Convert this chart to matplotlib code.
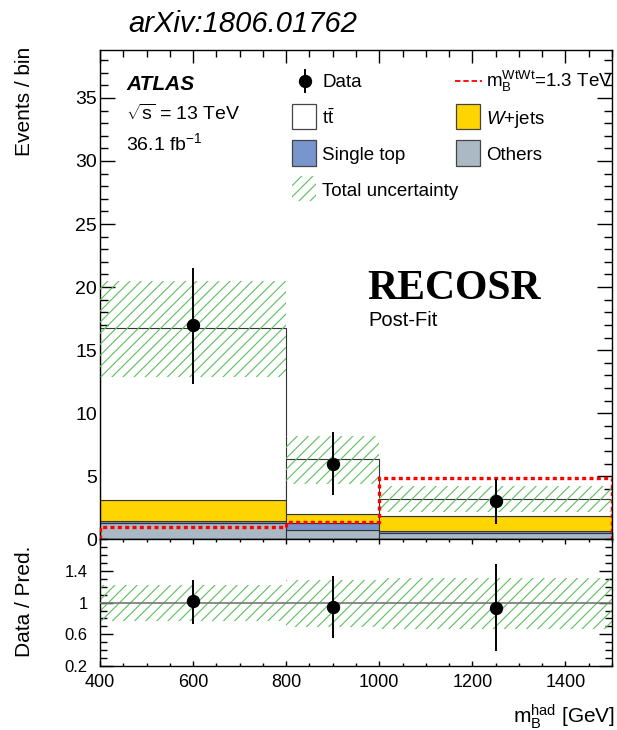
import numpy as np
import matplotlib
matplotlib.use('Agg')
from matplotlib import pyplot as plt
from matplotlib.patches import Rectangle
from matplotlib.lines import Line2D
from matplotlib.ticker import MultipleLocator, FuncFormatter

plt.rcParams['font.family'] = ['Liberation Sans', 'DejaVu Sans']
plt.rcParams['mathtext.fontset'] = 'custom'
plt.rcParams['mathtext.rm'] = 'Liberation Sans'
plt.rcParams['mathtext.it'] = 'Liberation Sans:italic'
plt.rcParams['mathtext.bf'] = 'Liberation Sans:bold'
plt.rcParams['mathtext.sf'] = 'Liberation Sans'
plt.rcParams['hatch.linewidth'] = 0.8

# bins in m_B^had [GeV]
edges = np.array([400, 800, 1000, 1500])

# stacked backgrounds (post-fit), bottom to top
others = np.array([1.28, 0.74, 0.47])
single_top = np.array([0.16, 0.59, 0.16])
wjets = np.array([1.71, 0.64, 1.18])
ttbar = np.array([13.59, 4.38, 1.39])

# total uncertainty band (absolute)
unc_lo = np.array([12.9, 4.36, 2.13])
unc_hi = np.array([20.45, 8.18, 4.19])

# data with error bar ends
data = np.array([17, 6, 3])
data_lo = np.array([12.3, 3.54, 1.25])
data_hi = np.array([21.5, 8.5, 4.77])

# signal m_B = 1.3 TeV
signal = np.array([1.0, 1.35, 4.9])

c_others = '#aab9c3'
c_single = '#7896cd'
c_wjets = '#ffd500'
c_hatch = '#5cbf5c'

centers = 0.5 * (edges[:-1] + edges[1:])
widths = np.diff(edges)
total = others + single_top + wjets + ttbar

W, H = 617, 730
fig = plt.figure(figsize=(W / 100, H / 100), dpi=100)


def fx(x):
    return x / W


def fy(y):
    return 1 - y / H


ax = fig.add_axes([fx(100), fy(539.3), (612 - 100) / W, (539.3 - 50) / H])
rax = fig.add_axes([fx(100), fy(666), (612 - 100) / W, (666 - 539.3) / H])

# stack
bottom = np.zeros(3)
for vals, col in [(others, c_others), (single_top, c_single), (wjets, c_wjets), (ttbar, 'white')]:
    ax.bar(edges[:-1], vals, width=widths, bottom=bottom, align='edge',
           color=col, edgecolor='#333333', linewidth=0.8, zorder=2)
    bottom = bottom + vals

ax.bar(edges[:-1], unc_hi - unc_lo, width=widths, bottom=unc_lo, align='edge',
       fill=False, hatch='///', edgecolor=c_hatch, linewidth=0, zorder=3)

ax.stairs(signal, edges, color='red', linestyle=(0, (1.2, 1.0)), linewidth=2.4, zorder=4)

ax.errorbar(centers, data, yerr=[data - data_lo, data_hi - data], fmt='o', color='black',
            markersize=8.6, elinewidth=1.4, capsize=0, zorder=5)

ax.set_xlim(400, 1500)
ax.set_ylim(0, 38.8)
ax.yaxis.set_major_locator(MultipleLocator(5))
ax.yaxis.set_minor_locator(MultipleLocator(1))
ax.xaxis.set_major_locator(MultipleLocator(200))
ax.xaxis.set_minor_locator(MultipleLocator(50))
ax.tick_params(which='both', direction='in', top=True, right=True, labelbottom=False, width=1)
ax.tick_params(axis='y', which='major', length=11, labelsize=14, pad=2)
ax.tick_params(axis='y', which='minor', length=6)
ax.tick_params(axis='x', which='major', length=9)
ax.tick_params(axis='x', which='minor', length=5)

# ratio panel
r_data = data / total
r_lo = data_lo / total
r_hi = data_hi / total
rb_lo = unc_lo / total
rb_hi = unc_hi / total

rax.bar(edges[:-1], rb_hi - rb_lo, width=widths, bottom=rb_lo, align='edge',
        fill=False, hatch='///', edgecolor=c_hatch, linewidth=0, zorder=2)
rax.axhline(1, color='#777777', linewidth=1.2, zorder=3)
rax.errorbar(centers, r_data, yerr=[r_data - r_lo, r_hi - r_data], fmt='o', color='black',
             markersize=8.6, elinewidth=1.4, capsize=0, zorder=5)

rax.set_xlim(400, 1500)
rax.set_ylim(0.2, 1.8)
rax.set_yticks([0.2, 0.6, 1.0, 1.4])
rax.yaxis.set_minor_locator(MultipleLocator(0.1))
rax.yaxis.set_major_formatter(FuncFormatter(lambda v, p: '%g' % v))
rax.xaxis.set_major_locator(MultipleLocator(200))
rax.xaxis.set_minor_locator(MultipleLocator(50))
rax.tick_params(which='both', direction='in', top=True, right=True, width=1)
rax.tick_params(axis='y', which='major', length=9.5, labelsize=12, pad=9)
rax.tick_params(axis='y', which='minor', length=4.8)
rax.tick_params(axis='x', which='major', length=3.6, labelsize=13, pad=6)
rax.tick_params(axis='x', which='minor', length=2.4)

for a in (ax, rax):
    for s in a.spines.values():
        s.set_linewidth(1.0)

# labels
fig.text(fx(24), fy(47), 'Events / bin', rotation=90, ha='center', va='top', fontsize=15)
fig.text(fx(25), fy(601), 'Data / Pred.', rotation=90, ha='center', va='center', fontsize=15)
fig.text(fx(615), fy(723), r'$\mathrm{m_B^{had}}$ [GeV]', ha='right', va='baseline', fontsize=15)

fig.text(fx(128), fy(32), 'arXiv:1806.01762', fontsize=21, style='italic', va='baseline')

fig.text(fx(126), fy(90), 'ATLAS', fontsize=15, weight='bold', style='italic', va='baseline')
fig.text(fx(126), fy(120), r'$\sqrt{\mathrm{s}}$ = 13 TeV', fontsize=14, va='baseline')
fig.text(fx(126), fy(150), r'36.1 fb$^{\mathrm{-1}}$', fontsize=14, va='baseline')

fig.text(fx(367), fy(298.7), 'RECOSR', fontsize=30, weight='bold',
         family='Liberation Serif', va='baseline')
fig.text(fx(368), fy(325.7), 'Post-Fit', fontsize=14.5, va='baseline')

# legend
lfs = 13.5
fig.add_artist(Line2D([fx(305), fx(305)], [fy(70), fy(92)], color='black', lw=1.4))
fig.add_artist(Line2D([fx(305)], [fy(81)], marker='o', color='black', markersize=8.6))
fig.text(fx(322), fy(87), 'Data', fontsize=lfs, va='baseline')

fig.add_artist(Line2D([fx(455), fx(482)], [fy(81), fy(81)], color='red', lw=1.3,
                      linestyle=(0, (3, 1.6))))
fig.text(fx(486), fy(87), r'$\mathrm{m_B^{WtWt}}$=1.3 TeV', fontsize=lfs, va='baseline')

box_w, box_h = 24.5, 25
entries = [
    (291.7, 104, 'white', r'$\mathrm{t\bar{t}}$', 124),
    (455.5, 104, c_wjets, r'$W$+jets', 124),
    (291.7, 140.5, c_single, 'Single top', 160.5),
    (455.5, 140.5, c_others, 'Others', 160.5),
]
for x0, y0, col, lab, base in entries:
    fig.add_artist(Rectangle((fx(x0), fy(y0 + box_h)), box_w / W, box_h / H,
                             transform=fig.transFigure, facecolor=col,
                             edgecolor='#444444', linewidth=0.9))
    fig.text(fx(x0 + box_w + 6), fy(base), lab, fontsize=lfs, va='baseline')

fig.add_artist(Rectangle((fx(291.7), fy(176 + box_h)), box_w / W, box_h / H,
                         transform=fig.transFigure, fill=False, hatch='///',
                         edgecolor=c_hatch, linewidth=0))
fig.text(fx(322), fy(196), 'Total uncertainty', fontsize=lfs, va='baseline')

fig.savefig('out.png', dpi=100)
